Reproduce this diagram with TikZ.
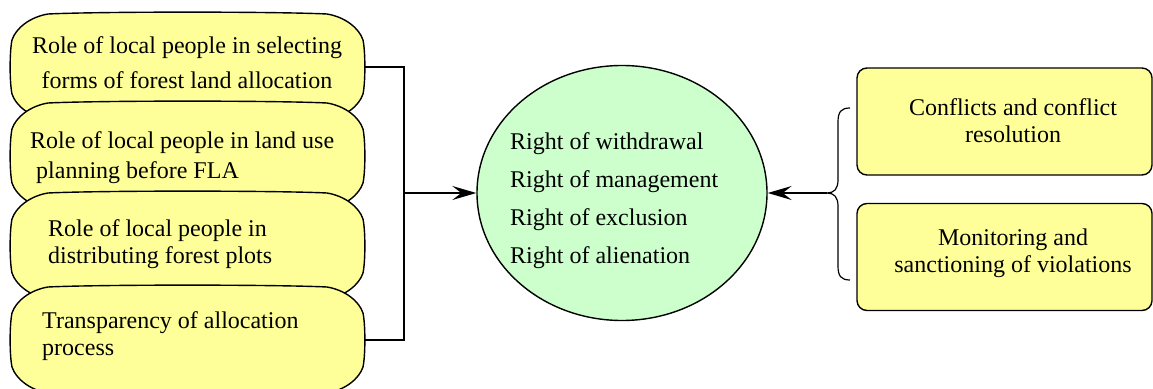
\documentclass[tikz,border=0pt]{standalone}
\usepackage{fontspec}
\setmainfont{Liberation Serif}
\usetikzlibrary{shapes.geometric,arrows.meta}

\definecolor{paleyellow}{RGB}{255,255,153}
\definecolor{palegreen}{RGB}{204,255,204}

\tikzset{
  outline/.style={draw=black, line width=1.4pt},
  blob/.pic={
    \path[outline, fill=paleyellow]
      (12,82) .. controls (9.5,70) and (9.5,40) .. (12,28)
      .. controls (16,16) and (30,5) .. (48,2)
      .. controls (100,-0.5) and (275,-0.5) .. (327,2)
      .. controls (345,5) and (359,16) .. (363,28)
      .. controls (365.5,40) and (365.5,70) .. (363,82)
      .. controls (359,94) and (345,105) .. (327,108)
      .. controls (275,110.5) and (100,110.5) .. (48,108)
      .. controls (30,105) and (16,94) .. (12,82) -- cycle;
  },
  label/.style={inner sep=0pt, font=\fontsize{24}{30}\selectfont},
  lbl/.style={label, anchor=base west},
  cbl/.style={label, anchor=base},
  link/.style={draw=black, line width=1.4pt},
  tip/.style={-{Stealth[length=24pt, width=14pt, inset=9pt]}},
  rbox/.style={outline, fill=paleyellow, rounded corners=10pt,
    minimum width=295pt, minimum height=107pt, inner sep=0pt},
}

\begin{document}
\begin{tikzpicture}[x=1pt, y=-1pt]
  \useasboundingbox (0,0) rectangle (1153,388);

  % left stack of factors
  \pic at (0,12) {blob};
  \pic at (0,101) {blob};
  \pic at (0,191) {blob};
  \pic at (0,285) {blob};

  \node[cbl] (a1) at (187,53) {Role of local people in selecting};
  \node[cbl] (a2) at (187,88) {forms of forest land allocation};
  \node[lbl] (b1) at (30,148) {Role of local people in land use};
  \node[lbl] (b2) at (36,178) {planning before FLA};
  \node[lbl] (c1) at (48,236) {Role of local people in};
  \node[lbl] (c2) at (48,263) {distributing forest plots};
  \node[lbl] (d1) at (42,328) {Transparency of allocation};
  \node[lbl] (d2) at (42,355) {process};

  \coordinate (s1) at (365,67);
  \coordinate (s4) at (365,340);
  \coordinate (jl) at (404,193);

  % central bundle of rights
  \node[ellipse, outline, fill=palegreen, minimum width=290pt,
        minimum height=255pt, inner sep=0pt] (rights) at (622,193) {};
  \node[lbl] (r1) at (510,149) {Right of withdrawal};
  \node[lbl] (r2) at (510,187) {Right of management};
  \node[lbl] (r3) at (510,225) {Right of exclusion};
  \node[lbl] (r4) at (510,263) {Right of alienation};

  % right-hand institutions
  \node[rbox] (conf) at (1004.5,121.5) {};
  \node[rbox] (moni) at (1004.5,257) {};
  \node[cbl] (e1) at (1013,115) {Conflicts and conflict};
  \node[cbl] (e2) at (1013,142) {resolution};
  \node[cbl] (f1) at (1013,245) {Monitoring and};
  \node[cbl] (f2) at (1013,272) {sanctioning of violations};

  % connectors
  \draw[link] (s1) -| (jl) |- (s4);
  \draw[link, tip] (jl) -- (rights.west);

  \coordinate (btop) at (850,108);
  \coordinate (bbot) at (850,280);
  \coordinate (btip) at (827,193);
  \draw[link, line width=1.2pt] (btop) .. controls (841,108) and (838,112) .. (838,122)
    -- (838,180) .. controls (838,189) and (834,193) .. (btip)
    .. controls (834,193) and (838,197) .. (838,206)
    -- (838,266) .. controls (838,276) and (841,280) .. (bbot);
  \draw[link, tip] (btip) -- (rights.east);
\end{tikzpicture}
\end{document}
